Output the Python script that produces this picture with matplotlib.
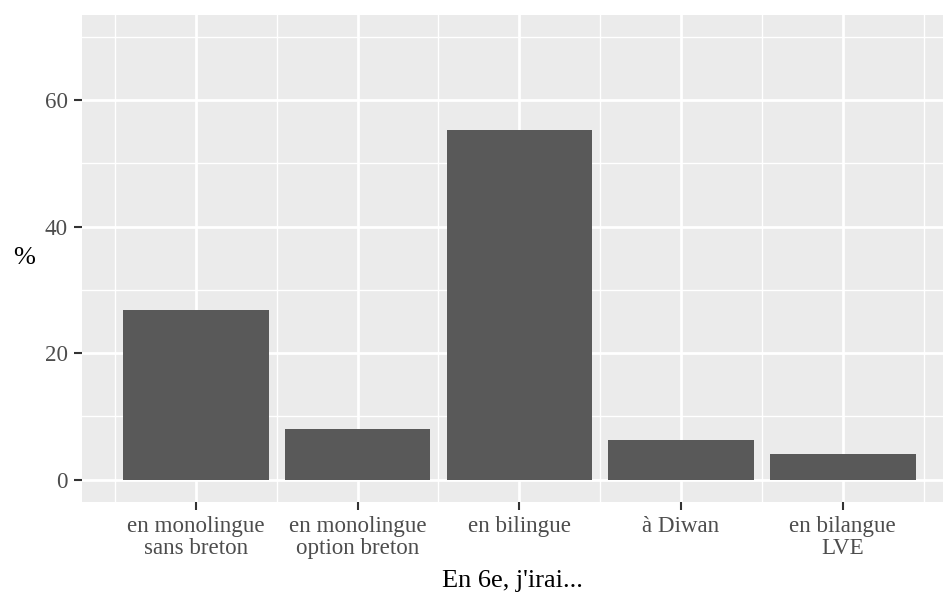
import matplotlib
matplotlib.use("Agg")
import matplotlib.pyplot as plt
from matplotlib.ticker import MultipleLocator

categories = ["en monolingue\nsans breton", "en monolingue\noption breton", "en bilingue", "à Diwan", "en bilangue\nLVE"]
values = [26.8, 8.0, 55.3, 6.2, 4.1]
yticks = [0, 20, 40, 60]

plt.rcParams['font.family'] = ['Liberation Serif', 'DejaVu Serif']

fig = plt.figure(figsize=(9.43, 5.92), dpi=100)
ax = fig.add_axes([82/943, 1-501.7/592, (943-82)/943, (501.7-14.7)/592])
ax.set_facecolor('#EBEBEB')

x = list(range(1, len(categories)+1))
ax.bar(x, values, width=0.9, color='#595959', zorder=3)

ax.set_xlim(0.296, 5.62)
ax.set_ylim(-3.5, 73.5)
ax.set_yticks(yticks)
ax.yaxis.set_minor_locator(MultipleLocator(10))
ax.set_xticks(x)
ax.set_xticks([0.5, 1.5, 2.5, 3.5, 4.5, 5.5], minor=True)
ax.set_xticklabels(categories, linespacing=1.08)

ax.grid(which='major', color='white', linewidth=2.0, zorder=1)
ax.grid(which='minor', color='white', linewidth=1.0, zorder=1)
ax.tick_params(which='minor', length=0)
ax.tick_params(which='major', length=6, width=1.5, color='#333333', labelcolor='#4D4D4D', labelsize=16.6, pad=4)
for s in ax.spines.values():
    s.set_visible(False)

ax.set_xlabel("En 6e, j'irai...", fontsize=19, color='black', labelpad=8)
ax.set_ylabel("%", fontsize=19, color='black', rotation=0, labelpad=15, va='center')

fig.savefig('out.png', dpi=100, facecolor='white')
